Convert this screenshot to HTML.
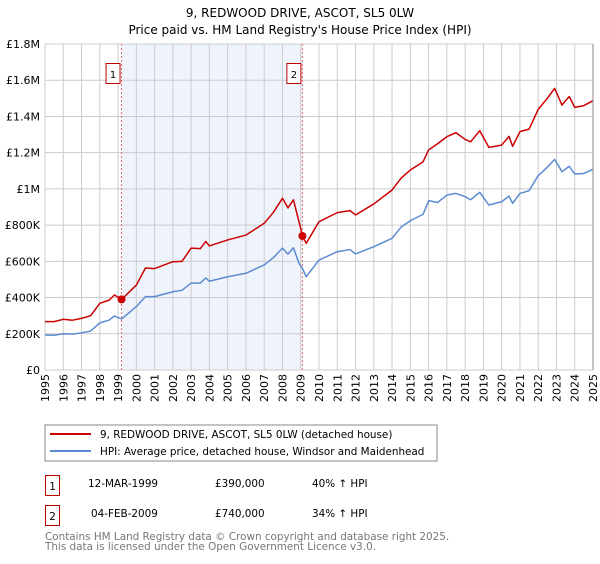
<!DOCTYPE html>
<html><head><meta charset="utf-8"><style>
body{margin:0;width:600px;height:560px;background:#fff;font-family:"DejaVu Sans","Liberation Sans",sans-serif;overflow:hidden}
svg text{font-family:"DejaVu Sans","Liberation Sans",sans-serif}
</style></head><body>
<svg id="c" width="600" height="560">
<text x="300" y="17" text-anchor="middle" font-size="12">9, REDWOOD DRIVE, ASCOT, SL5 0LW</text>
<text x="300" y="34" text-anchor="middle" font-size="12">Price paid vs. HM Land Registry's House Price Index (HPI)</text>
<g id="plot"></g>
<rect x="45" y="425" width="392" height="36" fill="#fff" stroke="#888"/>
<line x1="50" y1="434" x2="91" y2="434" stroke="#cc0000" stroke-width="2"/>
<text x="100" y="438" font-size="10.4">9, REDWOOD DRIVE, ASCOT, SL5 0LW (detached house)</text>
<line x1="50" y1="451" x2="91" y2="451" stroke="#5b8bd0" stroke-width="2"/>
<text x="100" y="455" font-size="10.4">HPI: Average price, detached house, Windsor and Maidenhead</text>
<rect x="45.5" y="475.5" width="14" height="20" fill="none" stroke="#b00"/>
<text x="52.5" y="490" text-anchor="middle" font-size="10.4">1</text>
<text x="88" y="487" font-size="10.4">12-MAR-1999</text>
<text x="215" y="487" font-size="10.4">£390,000</text>
<text x="312" y="487" font-size="10.4">40% ↑ HPI</text>
<rect x="45.5" y="505.5" width="14" height="20" fill="none" stroke="#b00"/>
<text x="52.5" y="520" text-anchor="middle" font-size="10.4">2</text>
<text x="91" y="517" font-size="10.4">04-FEB-2009</text>
<text x="215" y="517" font-size="10.4">£740,000</text>
<text x="312" y="517" font-size="10.4">34% ↑ HPI</text>
<text x="45" y="540" font-size="10.4" fill="#777">Contains HM Land Registry data © Crown copyright and database right 2025.</text>
<text x="45" y="550" font-size="10.4" fill="#777">This data is licensed under the Open Government Licence v3.0.</text>
</svg>
<script>
const years=[1995,1996,1997,1998,1999,2000,2001,2002,2003,2004,2005,2006,2007,2008,2009,2010,2011,2012,2013,2014,2015,2016,2017,2018,2019,2020,2021,2022,2023,2024,2025];
const yTicks=[0,200000,400000,600000,800000,1000000,1200000,1400000,1600000,1800000];
const yTickLabels=["£0","£200K","£400K","£600K","£800K","£1M","£1.2M","£1.4M","£1.6M","£1.8M"];
const dates=[1995,1995.5,1996,1996.5,1997,1997.5,1998,1998.5,1998.8,1999.2,2000,2000.5,2001,2002,2002.5,2003,2003.5,2003.8,2004,2005,2006,2007,2007.5,2008,2008.3,2008.6,2008.9,2009.1,2009.3,2010,2011,2011.7,2012,2013,2014,2014.5,2015,2015.7,2016,2016.5,2017,2017.5,2018,2018.3,2018.8,2019.3,2020,2020.4,2020.6,2021,2021.5,2022,2022.5,2022.9,2023.3,2023.7,2024,2024.5,2025];
const hpi=[193,192,200,198,205,215,260,275,298,282,350,405,405,432,440,480,480,508,490,515,534,580,620,673,640,675,590,560,515,607,653,665,641,681,727,790,824,860,935,925,966,975,957,940,981,911,929,960,920,975,990,1073,1120,1163,1095,1125,1082,1085,1108];
const priceIdx=[267,267,280,275,285,300,368,385,414,390,469,563,560,598,600,673,670,710,685,718,745,810,870,948,895,940,820,740,699,819,869,880,856,917,994,1060,1104,1150,1215,1250,1288,1310,1273,1260,1321,1229,1242,1290,1235,1316,1330,1439,1500,1555,1463,1510,1450,1460,1487];
const saleDates=[1999.19,2009.09];
const salePrices=[390000,740000];
const saleLabels=["1","2"];

const X0=45,X1=593,Y0=370,Y1=44;
const xs=y=>X0+(y-1995)/30*(X1-X0);
const ys=v=>Y0-v/1800000*(Y0-Y1);
const g=document.getElementById('plot');
const NS='http://www.w3.org/2000/svg';
function mk(t,a){const e=document.createElementNS(NS,t);for(const k in a)e.setAttribute(k,a[k]);g.appendChild(e);return e;}
let e=mk('rect',{x:X0,y:Y1,width:X1-X0,height:Y0-Y1,fill:'#fff'});


e=mk('rect',{x:xs(saleDates[0]),y:Y1,width:xs(saleDates[1])-xs(saleDates[0]),height:Y0-Y1,fill:'#eef3fc'});


years.forEach(y=>{
 const l=mk('line',{x1:xs(y),x2:xs(y),y1:Y1,y2:Y0,stroke:'#ccc','stroke-width':1});
 
 
 const t=mk('text',{x:0,y:0,'font-size':11,'text-anchor':'end',transform:`translate(${xs(y)+4},374) rotate(-90)`});
 t.textContent=y;
 
 
});
yTicks.forEach((v,i)=>{
 const l=mk('line',{x1:X0,x2:X1,y1:ys(v),y2:ys(v),stroke:'#ccc','stroke-width':1});
 
 
 const t=mk('text',{x:40,y:ys(v)+4,'font-size':11,'text-anchor':'end'});
 t.textContent=yTickLabels[i];
 
 
});
saleDates.forEach((d,i)=>{
 const l=mk('line',{x1:xs(d),x2:xs(d),y1:Y1,y2:Y0,stroke:'#e07070','stroke-dasharray':'2,2','stroke-width':1});
 
 
});
function path(vals,col,name){
 const p=mk('polyline',{points:dates.map((d,i)=>xs(d)+','+ys(vals[i]*1000)).join(' '),fill:'none',stroke:col,'stroke-width':1.5,'stroke-linejoin':'round'});
 
 
}
path(hpi,'#5b8bd0','hpi-line');
path(priceIdx,'#cc0000','property-line');
saleDates.forEach((d,i)=>{
 const c=mk('circle',{cx:xs(d),cy:ys(salePrices[i]),r:4,fill:'#cc0000'});
 
 
 const b=mk('rect',{x:xs(d)-15.5,y:63.5,width:14,height:20,fill:'#fff',stroke:'#b00'});
 
 
 const t=mk('text',{x:xs(d)-8.5,y:78,'font-size':10,'text-anchor':'middle'});
 t.textContent=saleLabels[i];
 
 
});
e=mk('line',{x1:X1,x2:X1,y1:Y1,y2:Y0,stroke:'#888'});


</script>
</body></html>
